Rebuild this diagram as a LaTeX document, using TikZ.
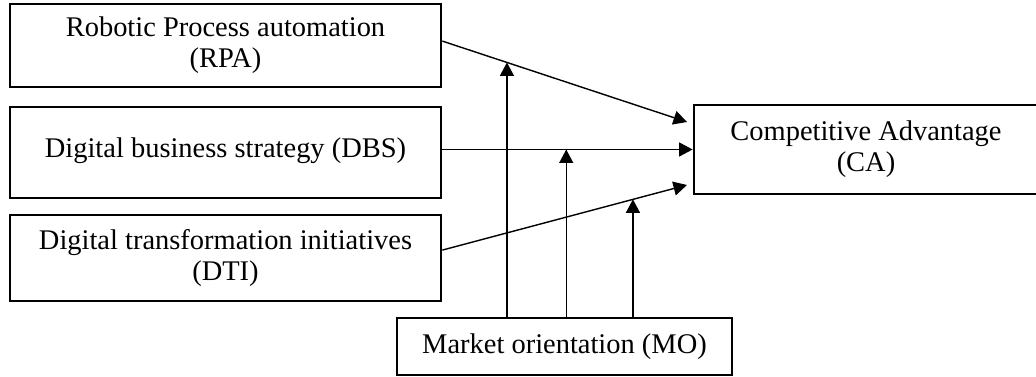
\documentclass[tikz,border=0pt]{standalone}
\usepackage{fontspec}
\setmainfont{Liberation Serif}
\usetikzlibrary{calc,arrows.meta}

\begin{document}
\begin{tikzpicture}[x=0.02cm,y=-0.02cm,
	box/.style={draw,line width=1.6pt,rectangle,inner sep=0pt,align=center,
		font=\fontsize{16.2}{17.5}\selectfont},
	arr/.style={line width=.8pt,-{Triangle[length=.27cm,width=.28cm]}}]
	\useasboundingbox (0,0) rectangle (1036,377);
	%three predictors stacked on the left
	\node[box,minimum width=8.62cm,minimum height=1.66cm] (rpa) at (225.5,45.5){Robotic Process automation\\(RPA)};
	\node[box,minimum width=8.62cm,minimum height=1.82cm,text height=.42cm,text depth=.2cm] (dbs) at (225.5,152.5){Digital business strategy (DBS)};
	\node[box,minimum width=8.62cm,minimum height=1.72cm] (dti) at (225.5,258){Digital transformation initiatives\\(DTI)};
	%outcome on the right, moderator at the bottom
	\node[box,minimum width=6.88cm,minimum height=1.78cm] (ca) at (866,149.5){Competitive Advantage\\(CA)};
	\node[box,minimum width=6.7cm,minimum height=1.14cm] (mo) at (564.5,346.5){Market orientation (MO)};
	%% direct paths
	\coordinate (r1) at ([yshift=2.5pt]rpa.east);
	\coordinate (d1) at (rpa.east |- ca.west);
	\coordinate (t1) at ([yshift=4.5pt]dti.east);
	\coordinate (c1) at (687,122);
	\coordinate (c3) at (687,185);
	\draw[arr] (r1)--(c1);
	\draw[arr] (d1)--(ca.west);
	\draw[arr] (t1)--(c3);
	%% moderating arrows hit the paths
	\coordinate (m1) at ($(r1)!.264!(c1)$);
	\coordinate (m2) at ($(d1)!.495!(ca.west)$);
	\coordinate (m3) at ($(t1)!.779!(c3)$);
	\foreach \m in {m1,m2,m3}{
		\draw[arr] (mo.north -| \m)--(\m);
	}
\end{tikzpicture}
\end{document}
